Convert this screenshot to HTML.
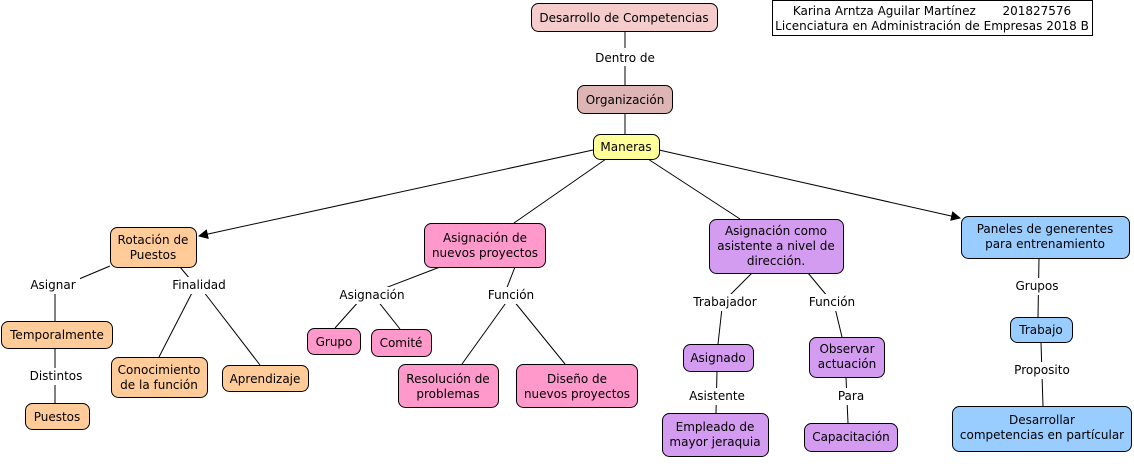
<!DOCTYPE html>
<html><head><meta charset="utf-8"><style>
body{margin:0;background:#fff;width:1134px;height:459px;overflow:hidden}
svg text{font-family:"DejaVu Sans","Liberation Sans",sans-serif;font-size:12px;fill:#000}
.pre{white-space:pre}
</style></head><body>
<svg width="1134" height="459" xmlns="http://www.w3.org/2000/svg">
<defs><marker id="a" markerWidth="10" markerHeight="10" refX="9" refY="5" orient="auto" markerUnits="userSpaceOnUse"><path d="M0,0 L10,5 L0,10 z" fill="#000"/></marker></defs>
<g stroke="#000" stroke-width="1" fill="none">
<line x1="625" y1="31" x2="625" y2="85"/>
<line x1="625" y1="113" x2="625" y2="134"/>
<line x1="593" y1="150" x2="199" y2="236" marker-end="url(#a)"/>
<line x1="659" y1="150" x2="960" y2="218" marker-end="url(#a)"/>
<line x1="606" y1="159" x2="514" y2="223"/>
<line x1="648" y1="159" x2="740" y2="219"/>
<line x1="110" y1="266" x2="60" y2="287"/><line x1="55" y1="287" x2="55" y2="321"/>
<line x1="55" y1="348" x2="55" y2="403"/>
<line x1="180" y1="267" x2="195" y2="285"/>
<line x1="195" y1="287" x2="159" y2="357"/>
<line x1="200" y1="287" x2="260" y2="365"/>
<line x1="440" y1="267" x2="380" y2="290"/>
<line x1="360" y1="300" x2="335" y2="328"/>
<line x1="377" y1="300" x2="400" y2="329"/>
<line x1="515" y1="267" x2="506" y2="290"/>
<line x1="508" y1="300" x2="462" y2="364"/>
<line x1="513" y1="300" x2="565" y2="364"/>
<line x1="752" y1="273" x2="728" y2="297"/>
<line x1="722" y1="308" x2="718" y2="344"/>
<line x1="808" y1="273" x2="828" y2="297"/>
<line x1="835" y1="308" x2="842" y2="337"/>
<line x1="717" y1="371" x2="716" y2="413"/>
<line x1="846" y1="377" x2="848" y2="423"/>
<line x1="1039" y1="258" x2="1038" y2="317"/>
<line x1="1041" y1="342" x2="1043" y2="406"/>
</g>
<g font-size="12">
<rect x="592" y="48" width="66" height="18" fill="#fff"/><text x="625" y="62" text-anchor="middle">Dentro de</text>
<rect x="28" y="277" width="52" height="17" fill="#fff"/><text x="53" y="289" text-anchor="middle">Asignar</text>
<rect x="170" y="277" width="58" height="17" fill="#fff"/><text x="199" y="289" text-anchor="middle">Finalidad</text>
<rect x="27" y="368" width="58" height="17" fill="#fff"/><text x="56" y="380" text-anchor="middle">Distintos</text>
<rect x="338" y="287" width="68" height="17" fill="#fff"/><text x="372" y="299" text-anchor="middle">Asignación</text>
<rect x="486" y="287" width="52" height="17" fill="#fff"/><text x="511" y="299" text-anchor="middle">Función</text>
<rect x="690" y="294" width="72" height="17" fill="#fff"/><text x="725" y="306" text-anchor="middle">Trabajador</text>
<rect x="806" y="294" width="52" height="17" fill="#fff"/><text x="832" y="306" text-anchor="middle">Función</text>
<rect x="687" y="388" width="60" height="17" fill="#fff"/><text x="717" y="400" text-anchor="middle">Asistente</text>
<rect x="834" y="388" width="34" height="17" fill="#fff"/><text x="851" y="400" text-anchor="middle">Para</text>
<rect x="1013" y="278" width="48" height="17" fill="#fff"/><text x="1037" y="290" text-anchor="middle">Grupos</text>
<rect x="1011" y="362" width="62" height="17" fill="#fff"/><text x="1042" y="374" text-anchor="middle">Proposito</text>
</g>
<g stroke="#000" stroke-width="1">
<rect x="531.5" y="3.5" width="186" height="28" rx="7" fill="#f4cccc"/>
<rect x="577.5" y="85.5" width="95" height="28" rx="7" fill="#deb5b5"/>
<rect x="593.5" y="134.5" width="66" height="25" rx="7" fill="#ffff99"/>
<rect x="110.5" y="227.5" width="86" height="40" rx="7" fill="#ffcc99"/>
<rect x="424.5" y="223.5" width="121" height="44" rx="7" fill="#ff99cc"/>
<rect x="709.5" y="219.5" width="134" height="54" rx="7" fill="#d49cf0"/>
<rect x="961.5" y="216.5" width="168" height="42" rx="7" fill="#99ccff"/>
<rect x="1.5" y="321.5" width="111" height="27" rx="7" fill="#ffcc99"/>
<rect x="111.5" y="357.5" width="96" height="40" rx="7" fill="#ffcc99"/>
<rect x="222.5" y="365.5" width="86" height="26" rx="7" fill="#ffcc99"/>
<rect x="25.5" y="403.5" width="64" height="26" rx="7" fill="#ffcc99"/>
<rect x="307.5" y="328.5" width="53" height="26" rx="7" fill="#ff99cc"/>
<rect x="371.5" y="329.5" width="60" height="27" rx="7" fill="#ff99cc"/>
<rect x="398.5" y="364.5" width="100" height="43" rx="7" fill="#ff99cc"/>
<rect x="516.5" y="364.5" width="121" height="43" rx="7" fill="#ff99cc"/>
<rect x="683.5" y="344.5" width="70" height="27" rx="7" fill="#d49cf0"/>
<rect x="809.5" y="337.5" width="75" height="40" rx="7" fill="#d49cf0"/>
<rect x="662.5" y="413.5" width="106" height="43" rx="7" fill="#d49cf0"/>
<rect x="804.5" y="423.5" width="93" height="28" rx="7" fill="#d49cf0"/>
<rect x="1010.5" y="317.5" width="62" height="25" rx="7" fill="#99ccff"/>
<rect x="952.5" y="406.5" width="179" height="45" rx="7" fill="#99ccff"/>
<rect x="772.5" y="0.5" width="320" height="35" fill="#fff"/>
</g>
<g text-anchor="middle">
<text x="624" y="22">Desarrollo de Competencias</text>
<text x="625" y="104">Organización</text>
<text x="626" y="151">Maneras</text>
<text x="153" y="244">Rotación de</text><text x="153" y="259">Puestos</text>
<text x="485" y="242">Asignación de</text><text x="485" y="257">nuevos proyectos</text>
<text x="776" y="235">Asignación como</text><text x="776" y="250">asistente a nivel de</text><text x="776" y="265">dirección.</text>
<text x="1045" y="233">Paneles de generentes</text><text x="1045" y="248">para entrenamiento</text>
<text x="57" y="339">Temporalmente</text>
<text x="159" y="374">Conocimiento</text><text x="159" y="389">de la función</text>
<text x="265" y="383">Aprendizaje</text>
<text x="57" y="421">Puestos</text>
<text x="334" y="346">Grupo</text>
<text x="401" y="347">Comité</text>
<text x="448" y="383">Resolución de</text><text x="448" y="398">problemas</text>
<text x="577" y="383">Diseño de</text><text x="577" y="398">nuevos proyectos</text>
<text x="718" y="362">Asignado</text>
<text x="847" y="353">Observar</text><text x="847" y="368">actuación</text>
<text x="715" y="431">Empleado de</text><text x="715" y="446">mayor jeraquia</text>
<text x="851" y="441">Capacitación</text>
<text x="1041" y="334">Trabajo</text>
<text x="1042" y="424">Desarrollar</text><text x="1042" y="439">competencias en partícular</text>
<text class="pre" x="932" y="15">Karina Arntza Aguilar Martínez       201827576</text>
<text x="932" y="30">Licenciatura en Administración de Empresas 2018 B</text>
</g>
</svg>
</body></html>
